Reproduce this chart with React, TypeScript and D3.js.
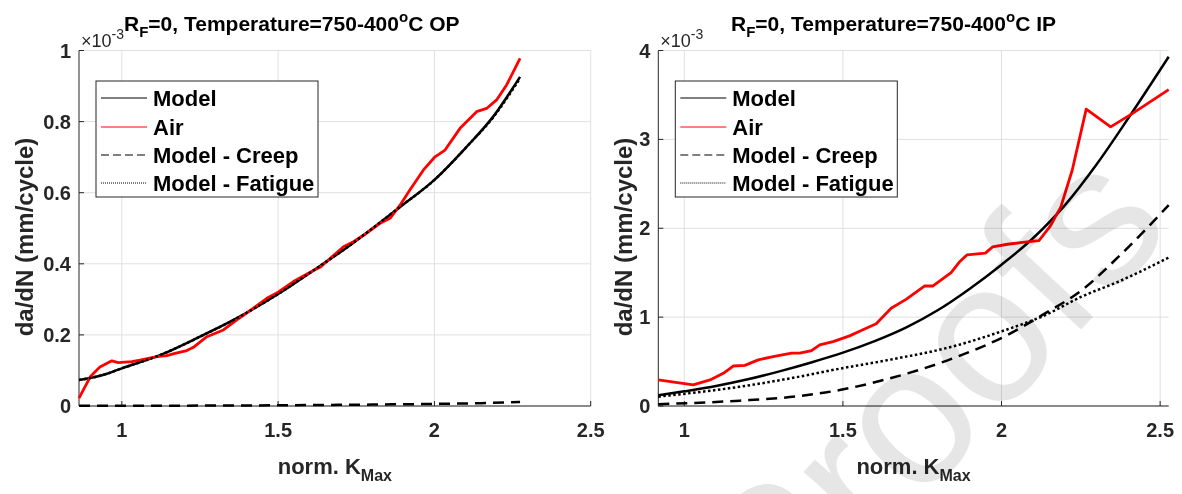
import React from "react";
import * as d3 from "d3";

// ---------------- DATA (values in units of 1e-3 mm/cycle) ----------------
const xTicks = [1, 1.5, 2, 2.5];
const xTickLabels = ["1", "1.5", "2", "2.5"];
const yTicksOP = [0, 0.2, 0.4, 0.6, 0.8, 1];
const yTickLabelsOP = ["0", "0.2", "0.4", "0.6", "0.8", "1"];
const yTicksIP = [0, 1, 2, 3, 4];
const yTickLabelsIP = ["0", "1", "2", "3", "4"];
const legendLabels = ["Model", "Air", "Model - Creep", "Model - Fatigue"];

// OP panel
const modelOP: [number, number][] = [
  [0.863, 0.073], [0.95, 0.09], [1.0, 0.106], [1.122, 0.143], [1.25, 0.195],
  [1.368, 0.247], [1.5, 0.315], [1.634, 0.394], [1.709, 0.439], [1.89, 0.56],
  [2.0, 0.636], [2.103, 0.729], [2.188, 0.814], [2.274, 0.926],
];
const fatigueOP: [number, number][] = [
  [0.863, 0.073], [0.95, 0.09], [1.0, 0.106], [1.122, 0.143], [1.25, 0.195],
  [1.368, 0.247], [1.5, 0.315], [1.634, 0.394], [1.709, 0.439], [1.89, 0.56],
  [2.0, 0.636], [2.103, 0.729], [2.188, 0.812], [2.274, 0.922],
];
const creepOP: [number, number][] = [
  [0.863, 0.0005], [1.2, 0.001], [1.5, 0.002], [1.8, 0.004], [2.0, 0.006],
  [2.15, 0.008], [2.274, 0.011],
];
const airOP: [number, number][] = [
  [0.863, 0.022], [0.899, 0.082], [0.93, 0.11], [0.968, 0.127], [0.989, 0.122],
  [1.032, 0.125], [1.058, 0.129], [1.112, 0.139], [1.144, 0.1415], [1.17, 0.148],
  [1.208, 0.156], [1.229, 0.165], [1.272, 0.195], [1.325, 0.214], [1.368, 0.242],
  [1.421, 0.275], [1.464, 0.303], [1.5, 0.32], [1.549, 0.35], [1.613, 0.381],
  [1.634, 0.39], [1.709, 0.448], [1.741, 0.462], [1.783, 0.486], [1.826, 0.514],
  [1.858, 0.528], [1.89, 0.565], [1.922, 0.608], [1.965, 0.664], [2.002, 0.701],
  [2.034, 0.72], [2.082, 0.781], [2.135, 0.828], [2.167, 0.837], [2.199, 0.861],
  [2.231, 0.903], [2.274, 0.978],
];

// IP panel
const modelIP: [number, number][] = [
  [0.918, 0.12], [1.0, 0.165], [1.1, 0.225], [1.2, 0.3], [1.3, 0.39],
  [1.4, 0.49], [1.5, 0.6], [1.6, 0.73], [1.7, 0.885], [1.8, 1.08],
  [1.9, 1.32], [2.0, 1.59], [2.1, 1.89], [2.2, 2.26], [2.3, 2.72],
  [2.4, 3.24], [2.527, 3.93],
];
const creepIP: [number, number][] = [
  [0.918, 0.02], [1.175, 0.06], [1.332, 0.1], [1.49, 0.18], [1.647, 0.31],
  [1.857, 0.55], [2.019, 0.8], [2.136, 1.04], [2.252, 1.3], [2.369, 1.68],
  [2.527, 2.26],
];
const fatigueIP: [number, number][] = [
  [0.918, 0.105], [1.175, 0.217], [1.332, 0.31], [1.49, 0.42], [1.647, 0.52],
  [1.857, 0.68], [2.0, 0.84], [2.136, 1.02], [2.252, 1.23], [2.369, 1.4],
  [2.527, 1.67],
];
const airIP: [number, number][] = [
  [0.918, 0.293], [1.028, 0.237], [1.081, 0.293], [1.123, 0.368], [1.154, 0.45],
  [1.191, 0.457], [1.233, 0.519], [1.28, 0.556], [1.338, 0.594], [1.364, 0.594],
  [1.401, 0.624], [1.427, 0.688], [1.469, 0.725], [1.521, 0.789], [1.563, 0.857],
  [1.605, 0.925], [1.652, 1.1], [1.699, 1.2], [1.757, 1.35], [1.783, 1.35],
  [1.841, 1.5], [1.867, 1.62], [1.891, 1.7], [1.949, 1.72], [1.972, 1.79],
  [2.019, 1.82], [2.066, 1.84], [2.118, 1.86], [2.153, 2.02], [2.187, 2.24],
  [2.223, 2.655], [2.267, 3.34], [2.344, 3.14], [2.412, 3.29], [2.527, 3.56],
];

const FONT = "'Liberation Sans', Arial, Helvetica, sans-serif";
const AXIS = "#262626";
const GRID = "#e0e0e0";

type PanelProps = {
  x0: number; x1: number; y0: number; y1: number;
  xDomain: [number, number]; yDomain: [number, number];
  yTicks: number[]; yTickLabels: string[];
  model: [number, number][]; air: [number, number][];
  creep: [number, number][]; fatigue: [number, number][];
  suffix: string; titleX: number; yLabelX: number;
};

function Panel(p: PanelProps) {
  const xs = d3.scaleLinear().domain(p.xDomain).range([p.x0, p.x1]);
  const ys = d3.scaleLinear().domain(p.yDomain).range([p.y1, p.y0]);
  const smooth = d3.line<[number, number]>().x(d => xs(d[0])).y(d => ys(d[1])).curve(d3.curveMonotoneX);
  const straight = d3.line<[number, number]>().x(d => xs(d[0])).y(d => ys(d[1]));
  const cx = (p.x0 + p.x1) / 2;
  const lx = p.x0 + 17;
  const ly = 81;
  const rows = [17, 46, 74, 102];
  const styles = [
    { stroke: "#000", dash: undefined as string | undefined },
    { stroke: "#ff0000", dash: undefined },
    { stroke: "#000", dash: "8,4" },
    { stroke: "#000", dash: "1,1" },
  ];
  return (
    <g fontFamily={FONT}>
      {/* grid */}
      {xTicks.map(t => (
        <line key={"gx" + t} x1={xs(t)} x2={xs(t)} y1={p.y0} y2={p.y1} stroke={GRID} strokeWidth={1} />
      ))}
      {p.yTicks.map(t => (
        <line key={"gy" + t} x1={p.x0} x2={p.x1} y1={ys(t)} y2={ys(t)} stroke={GRID} strokeWidth={1} />
      ))}
      {/* axes */}
      <line x1={p.x0} x2={p.x1} y1={p.y1} y2={p.y1} stroke={AXIS} strokeWidth={1} />
      <line x1={p.x0} x2={p.x0} y1={p.y0} y2={p.y1} stroke={AXIS} strokeWidth={1} />
      {xTicks.map(t => (
        <line key={"tx" + t} x1={xs(t)} x2={xs(t)} y1={p.y1} y2={p.y1 - 5} stroke={AXIS} strokeWidth={1} />
      ))}
      {p.yTicks.map(t => (
        <line key={"ty" + t} x1={p.x0} x2={p.x0 + 5} y1={ys(t)} y2={ys(t)} stroke={AXIS} strokeWidth={1} />
      ))}
      {xTicks.map((t, i) => (
        <text key={"lx" + t} x={xs(t)} y={p.y1 + 31} textAnchor="middle" fontSize={20} fontWeight="bold" fill={AXIS}>
          {xTickLabels[i]}
        </text>
      ))}
      {p.yTicks.map((t, i) => (
        <text key={"ly" + t} x={p.x0 - 8} y={ys(t) + 7} textAnchor="end" fontSize={20} fontWeight="bold" fill={AXIS}>
          {p.yTickLabels[i]}
        </text>
      ))}
      {/* exponent */}
      <text x={p.x0 + 2} y={47} fontSize={18} fill={AXIS}>
        ×10<tspan dy={-8} fontSize={14}>-3</tspan>
      </text>
      {/* title */}
      <text x={p.titleX} y={31} fontSize={21} fontWeight="bold" fill="#000">
        R<tspan dy={6} fontSize={15}>F</tspan><tspan dy={-6}>=0, Temperature=750-400</tspan>
        <tspan dy={-9} fontSize={15}>o</tspan><tspan dy={9}>{"C " + p.suffix}</tspan>
      </text>
      {/* axis labels */}
      <text x={cx} y={474} textAnchor="middle" fontSize={22} fontWeight="bold" fill={AXIS}>
        norm. K<tspan dy={7} fontSize={16}>Max</tspan>
      </text>
      <text transform={`translate(${p.yLabelX},237) rotate(-90)`} textAnchor="middle" fontSize={24} fontWeight="bold" fill={AXIS}>
        da/dN (mm/cycle)
      </text>
      {/* data */}
      <path d={smooth(p.model) || ""} fill="none" stroke="#000" strokeWidth={2.5} />
      <path d={straight(p.air) || ""} fill="none" stroke="#ff0000" strokeWidth={2.8} strokeLinejoin="round" />
      <path d={smooth(p.creep) || ""} fill="none" stroke="#000" strokeWidth={2.5} strokeDasharray="11,7" />
      <path d={smooth(p.fatigue) || ""} fill="none" stroke="#000" strokeWidth={2.5} strokeDasharray="2.5,2.5" />
      {/* legend */}
      <rect x={lx} y={ly} width={222} height={116} fill="#fff" stroke={AXIS} strokeWidth={1} />
      {legendLabels.map((lab, i) => (
        <g key={lab}>
          <line x1={lx + 5} x2={lx + 51} y1={ly + rows[i]} y2={ly + rows[i]} stroke={styles[i].stroke}
            strokeWidth={1} strokeDasharray={styles[i].dash} />
          <text x={lx + 57} y={ly + rows[i] + 8} fontSize={22} fontWeight="bold" fill="#000">{lab}</text>
        </g>
      ))}
    </g>
  );
}

export default function App() {
  return (
    <div style={{ position: "fixed", left: 0, top: 0 }}>
      <svg width={1182} height={494} style={{ display: "block", background: "#fff" }}>
        <rect x={0} y={0} width={1182} height={494} fill="#fff" />
        <Panel x0={79} x1={590.7} y0={50.5} y1={406} xDomain={[0.863, 2.5]} yDomain={[0, 1]}
          yTicks={yTicksOP} yTickLabels={yTickLabelsOP}
          model={modelOP} air={airOP} creep={creepOP} fatigue={fatigueOP} suffix="OP"
          titleX={124} yLabelX={33} />
        <Panel x0={658.3} x1={1168.7} y0={50.5} y1={406} xDomain={[0.918, 2.527]} yDomain={[0, 4]}
          yTicks={yTicksIP} yTickLabels={yTickLabelsIP}
          model={modelIP} air={airIP} creep={creepIP} fatigue={fatigueIP} suffix="IP"
          titleX={731} yLabelX={632} />
        <text transform="translate(978,440) rotate(-47)" textAnchor="middle" fontSize={200}
          fontFamily={FONT} fill="#e6e6e6" style={{ mixBlendMode: "multiply" }}>
          Proofs
        </text>
      </svg>
    </div>
  );
}
